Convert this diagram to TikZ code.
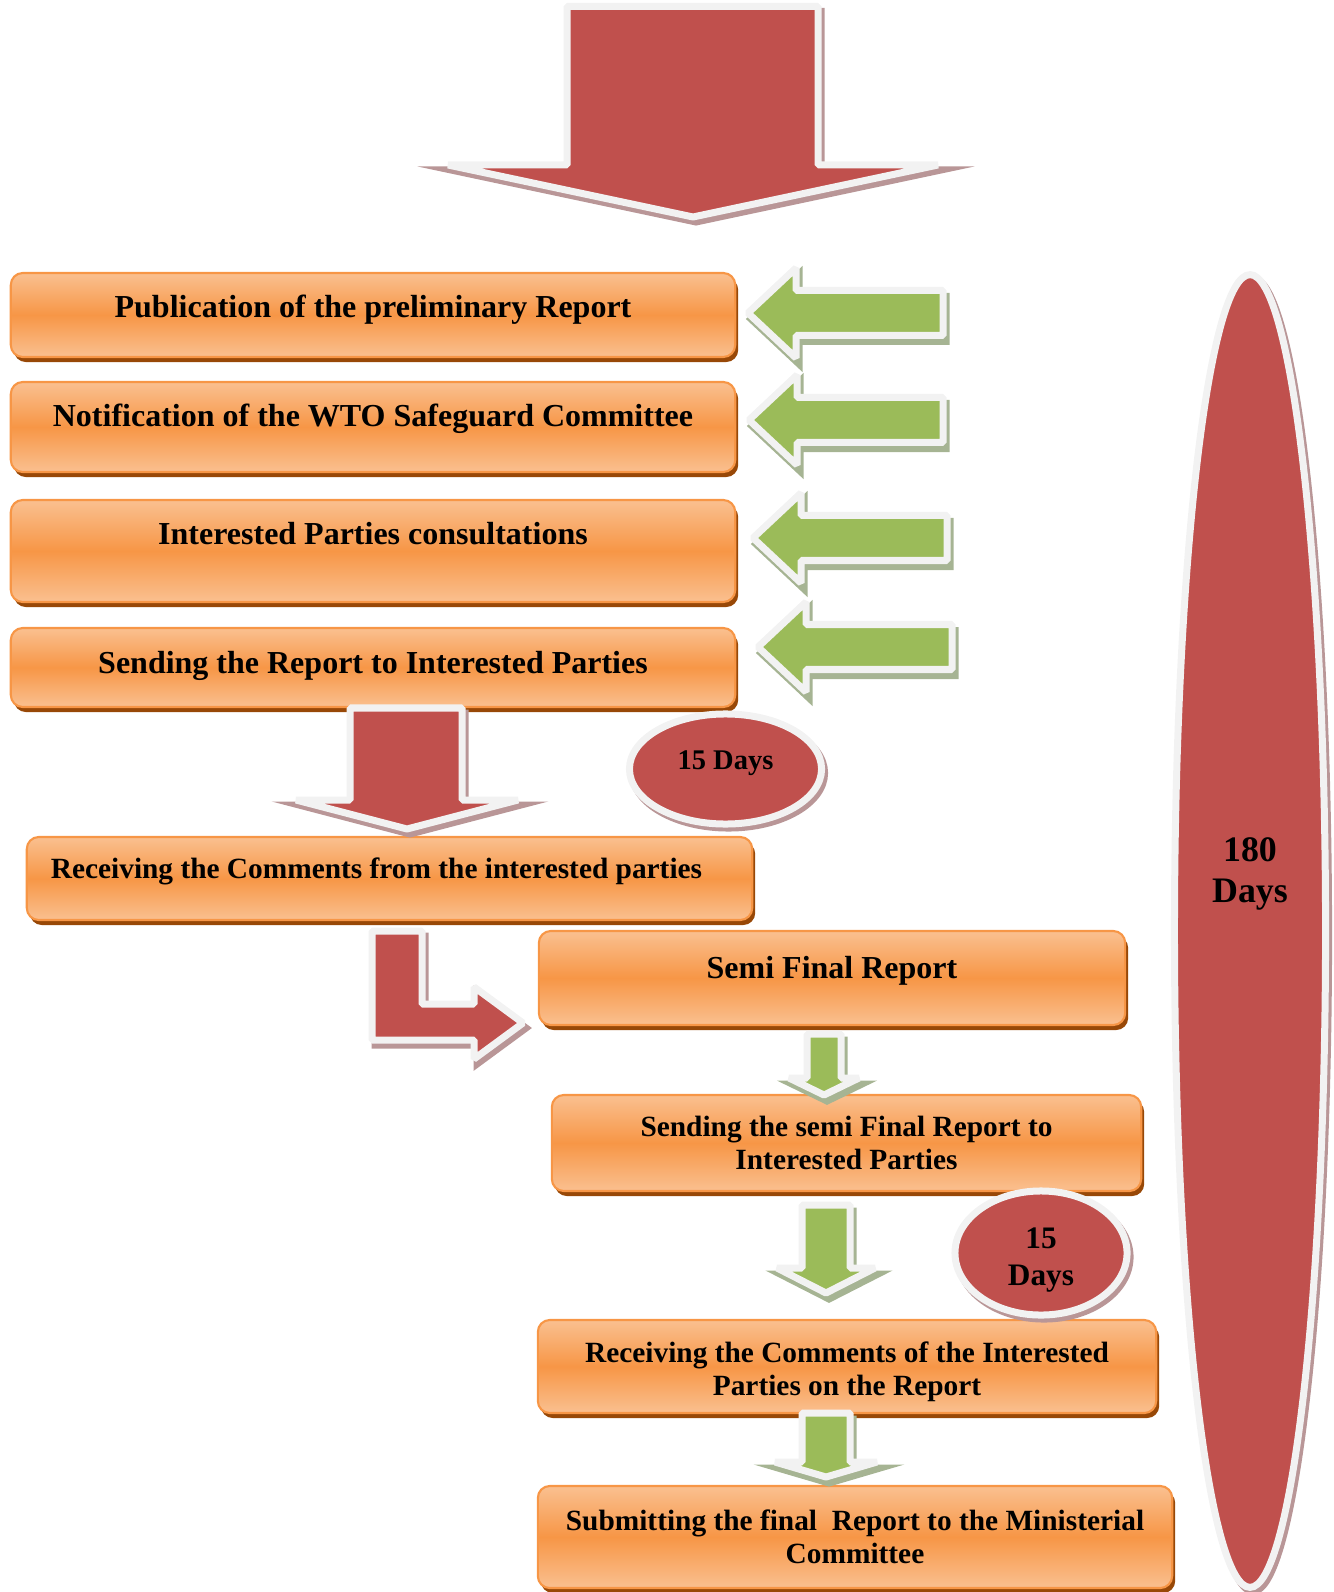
\documentclass[tikz,border=0pt]{standalone}
\usepackage{fontspec}
\setmainfont{Liberation Serif}
\usetikzlibrary{shapes.geometric,shadows}

\definecolor{boxlight}{HTML}{FAC090}
\definecolor{boxmid}{HTML}{F79646}
\definecolor{boxshadow}{HTML}{984807}
\definecolor{arrowred}{HTML}{C0504D}
\definecolor{redshade}{HTML}{B99697}
\definecolor{arrowgreen}{HTML}{9BBB59}
\definecolor{greenshade}{HTML}{A6B493}
\definecolor{rim}{HTML}{F2F2F2}

\tikzset{
  report/.style={rectangle, rounded corners=0.12cm, draw=boxmid, line width=0.6pt,
    top color=boxlight, bottom color=boxlight, middle color=boxmid,
    drop shadow={shadow xshift=0.03cm, shadow yshift=-0.05cm, fill=boxshadow, opacity=1},
    font=\fontsize{9.1}{9.4}\selectfont\bfseries, align=center, inner sep=0pt},
  small/.style={font=\fontsize{8.35}{9.4}\selectfont\bfseries},
  oneline/.style={text height=0.2cm, text depth=0.2cm},
  days/.style={ellipse, draw=rim, line width=0.07cm, fill=arrowred, inner sep=0pt,
    drop shadow={shadow xshift=0.03cm, shadow yshift=-0.04cm, fill=redshade,
      draw=redshade, line width=0.07cm, opacity=1},
    align=center},
  redarrow/.style={fill=arrowred, draw=rim, line width=0.07cm, line join=bevel,
    drop shadow={shadow xshift=0.03cm, shadow yshift=-0.05cm, fill=redshade,
      draw=redshade, line width=0.07cm, opacity=1}},
  greenarrow/.style={fill=arrowgreen, draw=rim, line width=0.07cm, line join=bevel,
    drop shadow={shadow xshift=0.03cm, shadow yshift=-0.06cm, fill=greenshade,
      draw=greenshade, line width=0.07cm, opacity=1}}
}

\begin{document}
\begin{tikzpicture}[x=0.01cm, y=-0.01cm]
  \useasboundingbox (0, 0) rectangle (1333, 1592);

  % steps
  \node [report, oneline, text height=0.26cm, minimum width=7.24cm, minimum height=0.84cm] (pub) at (373, 315) {Publication of the preliminary Report};
  \node [report, oneline, minimum width=7.24cm, minimum height=0.90cm] (notify) at (373, 427) {Notification of the WTO Safeguard Committee};
  \node [report, oneline, text depth=0.32cm, minimum width=7.24cm, minimum height=1.02cm] (consult) at (373, 551) {Interested Parties consultations};
  \node [report, oneline, text height=0.31cm, minimum width=7.24cm, minimum height=0.79cm] (sendrep) at (373, 667.5) {Sending the Report to Interested Parties};
  \node [report, small, oneline, minimum width=7.25cm, minimum height=0.83cm] (receive) at (389.5, 878.5) {Receiving the Comments from the interested parties\hspace*{0.26cm}};
  \node [report, oneline, minimum width=5.86cm, minimum height=0.94cm] (semi) at (832, 978) {Semi Final Report};
  \node [report, small, minimum width=5.89cm, minimum height=0.96cm] (sendsemi) at (846.5, 1143) {Sending the semi Final Report to\\Interested Parties};
  \node [report, small, minimum width=6.18cm, minimum height=0.93cm] (comments) at (847, 1366.5) {\rule{0pt}{0.32cm}Receiving the Comments of the Interested\\Parties on the Report};
  \node [report, small, minimum width=6.34cm, minimum height=1.02cm] (submit) at (855, 1537) {Submitting the final\ \ Report to the Ministerial\\Committee};

  % periods
  \node [days, oneline, font=\fontsize{8.1}{9}\selectfont\bfseries, minimum width=1.92cm, minimum height=1.10cm] (fifteena) at (725.5, 769) {15 Days};
  \node [days, font=\fontsize{8.9}{10.5}\selectfont\bfseries, minimum width=1.72cm, minimum height=1.24cm] (fifteenb) at (1041, 1253) {\rule{0pt}{0.35cm}15\\Days};
  \node [days, minimum width=1.51cm, minimum height=13.12cm,
    label={[font=\fontsize{10.2}{11.4}\selectfont\bfseries, align=center, yshift=0.57cm]center:180\\Days}] (total) at (1250, 931) {};

  % red arrows
  \draw [redarrow] (567, 6.5) -- (818, 6.5) -- (818, 165) -- (938, 165) -- (693, 217) -- (448, 165) -- (567, 165) -- cycle;
  \draw [redarrow] (350, 708) -- (462, 708) -- (462, 800) -- (518, 800) -- (407, 829) -- (296, 800) -- (350, 800) -- cycle;
  \draw [redarrow] (372, 931) -- (422, 931) -- (422, 1004) -- (474, 1004) -- (474, 987) -- (523, 1023) -- (474, 1059) -- (474, 1040) -- (372, 1040) -- cycle;

  % green arrows
  \foreach \tx/\ty/\ex in {748/313/943, 749/420/943, 753/538/947, 758/647/952}
    \draw [greenarrow] (\tx, \ty) -- (\tx + 48, \ty - 45) -- (\tx + 48, \ty - 22.5) -- (\ex, \ty - 22.5)
      -- (\ex, \ty + 22.5) -- (\tx + 48, \ty + 22.5) -- (\tx + 48, \ty + 45) -- cycle;

  \draw [greenarrow] (807, 1034) -- (841, 1034) -- (841, 1078) -- (859, 1078) -- (824, 1095) -- (789, 1078) -- (807, 1078) -- cycle;
  \draw [greenarrow] (802, 1205) -- (850, 1205) -- (850, 1268) -- (875, 1268) -- (826, 1293) -- (777, 1268) -- (802, 1268) -- cycle;
  \draw [greenarrow] (802, 1413) -- (850, 1413) -- (850, 1462) -- (877, 1462) -- (826, 1477) -- (775, 1462) -- (802, 1462) -- cycle;
\end{tikzpicture}
\end{document}
